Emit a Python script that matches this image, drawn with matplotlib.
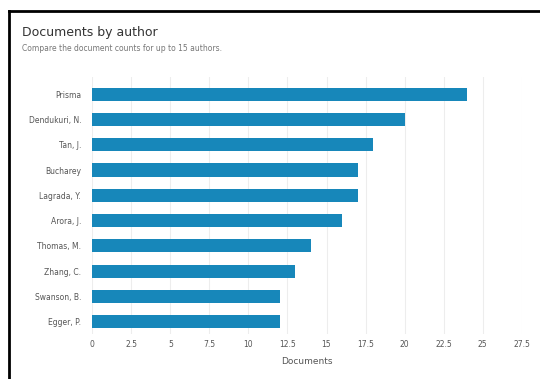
import matplotlib.pyplot as plt
import numpy as np
from matplotlib.lines import Line2D

# documents per author
authors = ['Prisma', 'Dendukuri, N.', 'Tan, J.', 'Bucharey', 'Lagrada, Y.',
           'Arora, J.', 'Thomas, M.', 'Zhang, C.', 'Swanson, B.', 'Egger, P.']
docs = [24, 20, 18, 17, 17, 16, 14, 13, 12, 12]
xticks = [0, 2.5, 5, 7.5, 10, 12.5, 15, 17.5, 20, 22.5, 25, 27.5]
xticklabels = ['0', '2.5', '5', '7.5', '10', '12.5', '15', '17.5', '20', '22.5', '25', '27.5']

fig = plt.figure(figsize=(5.4, 3.79), dpi=100)
ax = fig.add_axes([0.171, 0.118, 0.795, 0.68])

y = np.arange(len(authors))
ax.barh(y, docs, height=0.52, color='#1787ba', zorder=3)
ax.set_ylim(len(authors) - 0.5, -0.7)
ax.set_xlim(0, 27.5)

ax.set_yticks(y)
ax.set_yticklabels(authors, fontsize=5.5, color='#555555')
ax.set_xticks(xticks)
ax.set_xticklabels(xticklabels, fontsize=5.5, color='#555555')
ax.tick_params(axis='y', length=0, pad=8)
ax.tick_params(axis='x', length=0, pad=4)
ax.grid(axis='x', color='#ededed', linewidth=0.8, zorder=0)
for s in ax.spines.values():
    s.set_visible(False)
ax.set_xlabel('Documents', fontsize=6.5, color='#555555', labelpad=6)

fig.text(0.04, 0.915, 'Documents by author', fontsize=9, color='#333333', va='center')
fig.text(0.04, 0.873, 'Compare the document counts for up to 15 authors.', fontsize=5.5,
         color='#777777', va='center')

# black frame on top and left
fig.add_artist(Line2D([0.017, 1], [0.972, 0.972], color='black', linewidth=2,
                      transform=fig.transFigure))
fig.add_artist(Line2D([0.017, 0.017], [0, 0.972], color='black', linewidth=2,
                      transform=fig.transFigure))

fig.savefig('out.png', dpi=100)
